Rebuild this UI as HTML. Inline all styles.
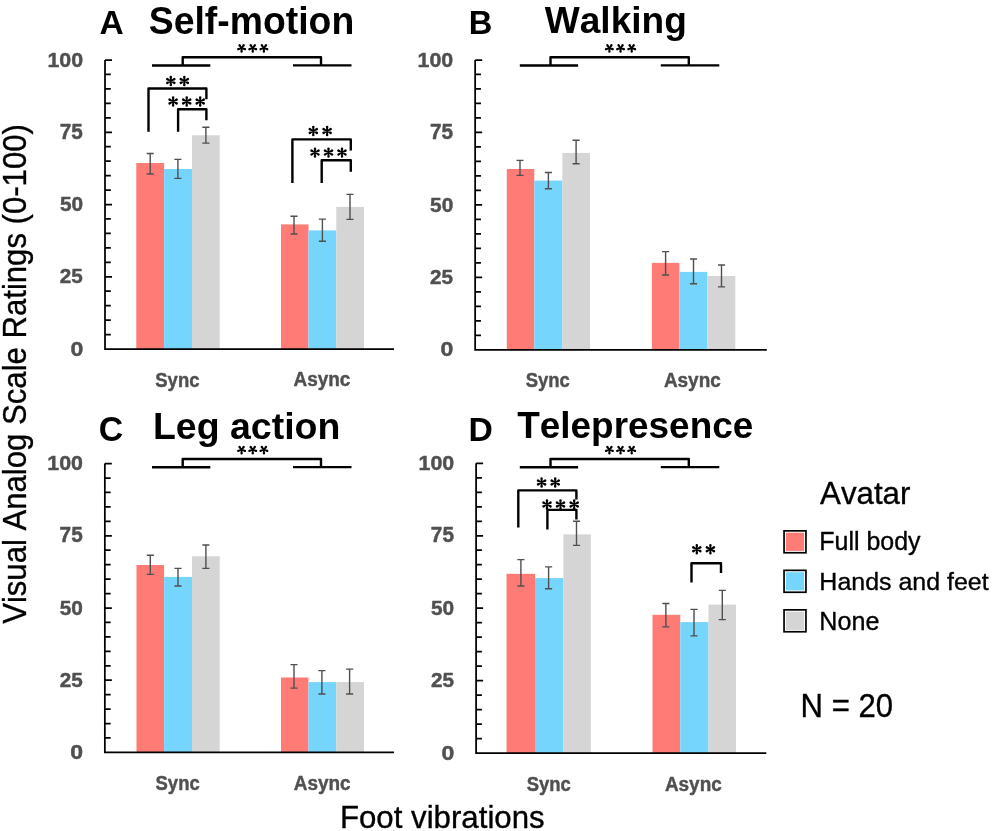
<!DOCTYPE html><html><head><meta charset="utf-8"><style>html,body{margin:0;padding:0;background:#fff;}svg{display:block;will-change:transform;}text{font-family:"Liberation Sans",sans-serif;font-kerning:none;}</style></head><body>
<svg width="992" height="831" viewBox="0 0 992 831">
<rect width="992" height="831" fill="#fff"/>
<rect x="136.30" y="163.00" width="27.80" height="186.00" fill="#FF7B76"/>
<rect x="164.10" y="169.00" width="27.90" height="180.00" fill="#76D5FD"/>
<rect x="192.00" y="135.30" width="27.70" height="213.70" fill="#D5D5D5"/>
<rect x="281.00" y="224.40" width="27.50" height="124.60" fill="#FF7B76"/>
<rect x="308.50" y="230.40" width="27.80" height="118.60" fill="#76D5FD"/>
<rect x="336.30" y="206.90" width="27.70" height="142.10" fill="#D5D5D5"/>
<path d="M146.65 153.50H153.75M150.20 153.50V174.00M146.65 174.00H153.75" stroke="#4f4f4f" stroke-width="1.4" fill="none"/>
<path d="M174.35 159.40H181.45M177.90 159.40V178.40M174.35 178.40H181.45" stroke="#4f4f4f" stroke-width="1.4" fill="none"/>
<path d="M202.35 127.30H209.45M205.90 127.30V143.10M202.35 143.10H209.45" stroke="#4f4f4f" stroke-width="1.4" fill="none"/>
<path d="M290.45 216.30H297.55M294.00 216.30V234.00M290.45 234.00H297.55" stroke="#4f4f4f" stroke-width="1.4" fill="none"/>
<path d="M318.85 219.10H325.95M322.40 219.10V241.30M318.85 241.30H325.95" stroke="#4f4f4f" stroke-width="1.4" fill="none"/>
<path d="M346.45 194.40H353.55M350.00 194.40V219.40M346.45 219.40H353.55" stroke="#4f4f4f" stroke-width="1.4" fill="none"/>
<path d="M105.00 60.00V349.00H394.00M105.00 60.00H112.00M105.00 74.45H110.80M105.00 88.90H110.80M105.00 103.35H110.80M105.00 117.80H110.80M105.00 132.25H112.00M105.00 146.70H110.80M105.00 161.15H110.80M105.00 175.60H110.80M105.00 190.05H110.80M105.00 204.50H112.00M105.00 218.95H110.80M105.00 233.40H110.80M105.00 247.85H110.80M105.00 262.30H110.80M105.00 276.75H112.00M105.00 291.20H110.80M105.00 305.65H110.80M105.00 320.10H110.80M105.00 334.55H110.80" stroke="#000" stroke-width="1.75" fill="none"/>
<text transform="translate(47.45 66.64) scale(1.0160 1)" font-size="21.04" font-weight="bold" fill="#505050" stroke="#505050" stroke-width="0.45" stroke-linejoin="round">100</text>
<text transform="translate(59.76 138.89) scale(0.9712 1)" font-size="21.35" font-weight="bold" fill="#505050" stroke="#505050" stroke-width="0.45" stroke-linejoin="round">75</text>
<text transform="translate(59.91 211.14) scale(0.9910 1)" font-size="21.04" font-weight="bold" fill="#505050" stroke="#505050" stroke-width="0.45" stroke-linejoin="round">50</text>
<text transform="translate(59.83 283.39) scale(0.9822 1)" font-size="21.04" font-weight="bold" fill="#505050" stroke="#505050" stroke-width="0.45" stroke-linejoin="round">25</text>
<text transform="translate(70.39 355.64) scale(1.0940 1)" font-size="21.04" font-weight="bold" fill="#505050" stroke="#505050" stroke-width="0.45" stroke-linejoin="round">0</text>
<text transform="translate(155.27 386.55) scale(0.8759 1)" font-size="21.12" font-weight="bold" fill="#505050" stroke="#505050" stroke-width="0.45" stroke-linejoin="round">Sync</text>
<text transform="translate(293.48 386.45) scale(0.9030 1)" font-size="21.00" font-weight="bold" fill="#505050" stroke="#505050" stroke-width="0.45" stroke-linejoin="round">Async</text>
<text transform="translate(99.41 34.00) scale(0.9860 1)" font-size="34.01" font-weight="bold" fill="#000" >A</text>
<text transform="translate(148.72 33.93) scale(0.9871 1)" font-size="37.86" font-weight="bold" fill="#000" >Self-motion</text>
<rect x="506.80" y="169.00" width="27.50" height="180.80" fill="#FF7B76"/>
<rect x="534.30" y="180.60" width="28.10" height="169.20" fill="#76D5FD"/>
<rect x="562.40" y="152.90" width="27.60" height="196.90" fill="#D5D5D5"/>
<rect x="651.90" y="262.90" width="27.50" height="86.90" fill="#FF7B76"/>
<rect x="679.40" y="271.90" width="27.90" height="77.90" fill="#76D5FD"/>
<rect x="707.30" y="276.00" width="28.00" height="73.80" fill="#D5D5D5"/>
<path d="M516.45 160.40H523.55M520.00 160.40V175.40M516.45 175.40H523.55" stroke="#4f4f4f" stroke-width="1.4" fill="none"/>
<path d="M544.85 172.50H551.95M548.40 172.50V188.80M544.85 188.80H551.95" stroke="#4f4f4f" stroke-width="1.4" fill="none"/>
<path d="M572.55 140.30H579.65M576.10 140.30V163.80M572.55 163.80H579.65" stroke="#4f4f4f" stroke-width="1.4" fill="none"/>
<path d="M662.05 251.60H669.15M665.60 251.60V275.00M662.05 275.00H669.15" stroke="#4f4f4f" stroke-width="1.4" fill="none"/>
<path d="M689.95 259.00H697.05M693.50 259.00V283.80M689.95 283.80H697.05" stroke="#4f4f4f" stroke-width="1.4" fill="none"/>
<path d="M717.95 265.00H725.05M721.50 265.00V286.90M717.95 286.90H725.05" stroke="#4f4f4f" stroke-width="1.4" fill="none"/>
<path d="M475.15 60.00V349.80H766.80M475.15 60.00H482.15M475.15 74.49H480.95M475.15 88.98H480.95M475.15 103.47H480.95M475.15 117.96H480.95M475.15 132.45H482.15M475.15 146.94H480.95M475.15 161.43H480.95M475.15 175.92H480.95M475.15 190.41H480.95M475.15 204.90H482.15M475.15 219.39H480.95M475.15 233.88H480.95M475.15 248.37H480.95M475.15 262.86H480.95M475.15 277.35H482.15M475.15 291.84H480.95M475.15 306.33H480.95M475.15 320.82H480.95M475.15 335.31H480.95" stroke="#000" stroke-width="1.75" fill="none"/>
<text transform="translate(417.60 66.64) scale(1.0160 1)" font-size="21.04" font-weight="bold" fill="#505050" stroke="#505050" stroke-width="0.45" stroke-linejoin="round">100</text>
<text transform="translate(429.91 139.09) scale(0.9712 1)" font-size="21.35" font-weight="bold" fill="#505050" stroke="#505050" stroke-width="0.45" stroke-linejoin="round">75</text>
<text transform="translate(430.06 211.54) scale(0.9910 1)" font-size="21.04" font-weight="bold" fill="#505050" stroke="#505050" stroke-width="0.45" stroke-linejoin="round">50</text>
<text transform="translate(429.98 283.99) scale(0.9822 1)" font-size="21.04" font-weight="bold" fill="#505050" stroke="#505050" stroke-width="0.45" stroke-linejoin="round">25</text>
<text transform="translate(440.54 356.44) scale(1.0940 1)" font-size="21.04" font-weight="bold" fill="#505050" stroke="#505050" stroke-width="0.45" stroke-linejoin="round">0</text>
<text transform="translate(525.67 386.95) scale(0.8759 1)" font-size="21.12" font-weight="bold" fill="#505050" stroke="#505050" stroke-width="0.45" stroke-linejoin="round">Sync</text>
<text transform="translate(663.88 386.85) scale(0.9030 1)" font-size="21.00" font-weight="bold" fill="#505050" stroke="#505050" stroke-width="0.45" stroke-linejoin="round">Async</text>
<text transform="translate(468.86 33.80) scale(0.9659 1)" font-size="33.87" font-weight="bold" fill="#000" >B</text>
<text transform="translate(544.76 32.64) scale(1.0257 1)" font-size="36.14" font-weight="bold" fill="#000" >Walking</text>
<rect x="136.50" y="565.00" width="27.60" height="187.40" fill="#FF7B76"/>
<rect x="164.10" y="576.90" width="27.90" height="175.50" fill="#76D5FD"/>
<rect x="192.00" y="556.30" width="27.70" height="196.10" fill="#D5D5D5"/>
<rect x="281.00" y="677.50" width="27.50" height="74.90" fill="#FF7B76"/>
<rect x="308.50" y="682.10" width="27.80" height="70.30" fill="#76D5FD"/>
<rect x="336.30" y="682.10" width="27.70" height="70.30" fill="#D5D5D5"/>
<path d="M146.75 555.30H153.85M150.30 555.30V574.40M146.75 574.40H153.85" stroke="#4f4f4f" stroke-width="1.4" fill="none"/>
<path d="M174.45 568.40H181.55M178.00 568.40V586.00M174.45 586.00H181.55" stroke="#4f4f4f" stroke-width="1.4" fill="none"/>
<path d="M202.35 545.00H209.45M205.90 545.00V568.40M202.35 568.40H209.45" stroke="#4f4f4f" stroke-width="1.4" fill="none"/>
<path d="M290.45 664.60H297.55M294.00 664.60V688.10M290.45 688.10H297.55" stroke="#4f4f4f" stroke-width="1.4" fill="none"/>
<path d="M318.35 670.60H325.45M321.90 670.60V694.00M318.35 694.00H325.45" stroke="#4f4f4f" stroke-width="1.4" fill="none"/>
<path d="M346.05 669.10H353.15M349.60 669.10V694.00M346.05 694.00H353.15" stroke="#4f4f4f" stroke-width="1.4" fill="none"/>
<path d="M104.85 463.60V752.40H394.00M104.85 463.60H111.85M104.85 478.04H110.65M104.85 492.48H110.65M104.85 506.92H110.65M104.85 521.36H110.65M104.85 535.80H111.85M104.85 550.24H110.65M104.85 564.68H110.65M104.85 579.12H110.65M104.85 593.56H110.65M104.85 608.00H111.85M104.85 622.44H110.65M104.85 636.88H110.65M104.85 651.32H110.65M104.85 665.76H110.65M104.85 680.20H111.85M104.85 694.64H110.65M104.85 709.08H110.65M104.85 723.52H110.65M104.85 737.96H110.65" stroke="#000" stroke-width="1.75" fill="none"/>
<text transform="translate(47.30 470.24) scale(1.0160 1)" font-size="21.04" font-weight="bold" fill="#505050" stroke="#505050" stroke-width="0.45" stroke-linejoin="round">100</text>
<text transform="translate(59.61 542.44) scale(0.9712 1)" font-size="21.35" font-weight="bold" fill="#505050" stroke="#505050" stroke-width="0.45" stroke-linejoin="round">75</text>
<text transform="translate(59.76 614.64) scale(0.9910 1)" font-size="21.04" font-weight="bold" fill="#505050" stroke="#505050" stroke-width="0.45" stroke-linejoin="round">50</text>
<text transform="translate(59.68 686.84) scale(0.9822 1)" font-size="21.04" font-weight="bold" fill="#505050" stroke="#505050" stroke-width="0.45" stroke-linejoin="round">25</text>
<text transform="translate(70.24 759.04) scale(1.0940 1)" font-size="21.04" font-weight="bold" fill="#505050" stroke="#505050" stroke-width="0.45" stroke-linejoin="round">0</text>
<text transform="translate(155.52 789.95) scale(0.8759 1)" font-size="21.12" font-weight="bold" fill="#505050" stroke="#505050" stroke-width="0.45" stroke-linejoin="round">Sync</text>
<text transform="translate(293.73 789.85) scale(0.9030 1)" font-size="21.00" font-weight="bold" fill="#505050" stroke="#505050" stroke-width="0.45" stroke-linejoin="round">Async</text>
<text transform="translate(98.81 440.51) scale(0.9631 1)" font-size="35.10" font-weight="bold" fill="#000" >C</text>
<text transform="translate(152.99 438.66) scale(0.9995 1)" font-size="37.48" font-weight="bold" fill="#000" >Leg action</text>
<rect x="506.50" y="573.80" width="28.50" height="179.30" fill="#FF7B76"/>
<rect x="535.00" y="578.10" width="28.40" height="175.00" fill="#76D5FD"/>
<rect x="563.40" y="534.40" width="27.50" height="218.70" fill="#D5D5D5"/>
<rect x="652.50" y="614.80" width="27.80" height="138.30" fill="#FF7B76"/>
<rect x="680.30" y="622.10" width="28.20" height="131.00" fill="#76D5FD"/>
<rect x="708.50" y="604.60" width="27.50" height="148.50" fill="#D5D5D5"/>
<path d="M517.35 559.60H524.45M520.90 559.60V586.00M517.35 586.00H524.45" stroke="#4f4f4f" stroke-width="1.4" fill="none"/>
<path d="M545.05 566.90H552.15M548.60 566.90V588.80M545.05 588.80H552.15" stroke="#4f4f4f" stroke-width="1.4" fill="none"/>
<path d="M572.95 521.30H580.05M576.50 521.30V545.40M572.95 545.40H580.05" stroke="#4f4f4f" stroke-width="1.4" fill="none"/>
<path d="M662.35 603.50H669.45M665.90 603.50V626.90M662.35 626.90H669.45" stroke="#4f4f4f" stroke-width="1.4" fill="none"/>
<path d="M690.45 609.40H697.55M694.00 609.40V635.90M690.45 635.90H697.55" stroke="#4f4f4f" stroke-width="1.4" fill="none"/>
<path d="M718.75 590.40H725.85M722.30 590.40V619.60M718.75 619.60H725.85" stroke="#4f4f4f" stroke-width="1.4" fill="none"/>
<path d="M476.10 463.30V753.10H766.30M476.10 463.30H483.10M476.10 477.79H481.90M476.10 492.28H481.90M476.10 506.77H481.90M476.10 521.26H481.90M476.10 535.75H483.10M476.10 550.24H481.90M476.10 564.73H481.90M476.10 579.22H481.90M476.10 593.71H481.90M476.10 608.20H483.10M476.10 622.69H481.90M476.10 637.18H481.90M476.10 651.67H481.90M476.10 666.16H481.90M476.10 680.65H483.10M476.10 695.14H481.90M476.10 709.63H481.90M476.10 724.12H481.90M476.10 738.61H481.90" stroke="#000" stroke-width="1.75" fill="none"/>
<text transform="translate(418.55 469.94) scale(1.0160 1)" font-size="21.04" font-weight="bold" fill="#505050" stroke="#505050" stroke-width="0.45" stroke-linejoin="round">100</text>
<text transform="translate(430.86 542.39) scale(0.9712 1)" font-size="21.35" font-weight="bold" fill="#505050" stroke="#505050" stroke-width="0.45" stroke-linejoin="round">75</text>
<text transform="translate(431.01 614.84) scale(0.9910 1)" font-size="21.04" font-weight="bold" fill="#505050" stroke="#505050" stroke-width="0.45" stroke-linejoin="round">50</text>
<text transform="translate(430.93 687.29) scale(0.9822 1)" font-size="21.04" font-weight="bold" fill="#505050" stroke="#505050" stroke-width="0.45" stroke-linejoin="round">25</text>
<text transform="translate(441.49 759.74) scale(1.0940 1)" font-size="21.04" font-weight="bold" fill="#505050" stroke="#505050" stroke-width="0.45" stroke-linejoin="round">0</text>
<text transform="translate(526.67 790.75) scale(0.8759 1)" font-size="21.12" font-weight="bold" fill="#505050" stroke="#505050" stroke-width="0.45" stroke-linejoin="round">Sync</text>
<text transform="translate(664.88 790.65) scale(0.9030 1)" font-size="21.00" font-weight="bold" fill="#505050" stroke="#505050" stroke-width="0.45" stroke-linejoin="round">Async</text>
<text transform="translate(468.40 440.85) scale(0.9983 1)" font-size="33.79" font-weight="bold" fill="#000" >D</text>
<text transform="translate(517.18 438.24) scale(1.0015 1)" font-size="36.90" font-weight="bold" fill="#000" >Telepresence</text>
<path d="M152.00 65.50H210.30M182.70 65.50V57.30H321.00V65.40M293.00 65.40H351.50" stroke="#000" stroke-width="2.4" fill="none" stroke-linecap="butt" stroke-linejoin="round"/>
<path d="M241.00 48.10L240.40 51.60A1.20 1.20 0 0 0 242.80 51.60L242.20 48.10ZM241.41 48.67L244.56 50.32A1.20 1.20 0 0 0 245.30 48.04L241.79 47.53ZM242.09 48.45L244.63 45.97A1.20 1.20 0 0 0 242.69 44.56L241.11 47.75ZM242.09 47.75L240.51 44.56A1.20 1.20 0 0 0 238.57 45.97L241.11 48.45ZM241.41 47.53L237.90 48.04A1.20 1.20 0 0 0 238.64 50.32L241.79 48.67Z" fill="#000"/>
<path d="M252.15 48.10L251.55 51.60A1.20 1.20 0 0 0 253.95 51.60L253.35 48.10ZM252.56 48.67L255.71 50.32A1.20 1.20 0 0 0 256.45 48.04L252.94 47.53ZM253.24 48.45L255.78 45.97A1.20 1.20 0 0 0 253.84 44.56L252.26 47.75ZM253.24 47.75L251.66 44.56A1.20 1.20 0 0 0 249.72 45.97L252.26 48.45ZM252.56 47.53L249.05 48.04A1.20 1.20 0 0 0 249.79 50.32L252.94 48.67Z" fill="#000"/>
<path d="M263.30 48.10L262.70 51.60A1.20 1.20 0 0 0 265.10 51.60L264.50 48.10ZM263.71 48.67L266.86 50.32A1.20 1.20 0 0 0 267.60 48.04L264.09 47.53ZM264.39 48.45L266.93 45.97A1.20 1.20 0 0 0 264.99 44.56L263.41 47.75ZM264.39 47.75L262.81 44.56A1.20 1.20 0 0 0 260.87 45.97L263.41 48.45ZM263.71 47.53L260.20 48.04A1.20 1.20 0 0 0 260.94 50.32L264.09 48.67Z" fill="#000"/>
<path d="M519.80 65.50H578.10M550.50 65.50V57.30H688.80V65.40M660.80 65.40H719.30" stroke="#000" stroke-width="2.4" fill="none" stroke-linecap="butt" stroke-linejoin="round"/>
<path d="M608.80 48.10L608.20 51.60A1.20 1.20 0 0 0 610.60 51.60L610.00 48.10ZM609.21 48.67L612.36 50.32A1.20 1.20 0 0 0 613.10 48.04L609.59 47.53ZM609.89 48.45L612.43 45.97A1.20 1.20 0 0 0 610.49 44.56L608.91 47.75ZM609.89 47.75L608.31 44.56A1.20 1.20 0 0 0 606.37 45.97L608.91 48.45ZM609.21 47.53L605.70 48.04A1.20 1.20 0 0 0 606.44 50.32L609.59 48.67Z" fill="#000"/>
<path d="M619.95 48.10L619.35 51.60A1.20 1.20 0 0 0 621.75 51.60L621.15 48.10ZM620.36 48.67L623.51 50.32A1.20 1.20 0 0 0 624.25 48.04L620.74 47.53ZM621.04 48.45L623.58 45.97A1.20 1.20 0 0 0 621.64 44.56L620.06 47.75ZM621.04 47.75L619.46 44.56A1.20 1.20 0 0 0 617.52 45.97L620.06 48.45ZM620.36 47.53L616.85 48.04A1.20 1.20 0 0 0 617.59 50.32L620.74 48.67Z" fill="#000"/>
<path d="M631.10 48.10L630.50 51.60A1.20 1.20 0 0 0 632.90 51.60L632.30 48.10ZM631.51 48.67L634.66 50.32A1.20 1.20 0 0 0 635.40 48.04L631.89 47.53ZM632.19 48.45L634.73 45.97A1.20 1.20 0 0 0 632.79 44.56L631.21 47.75ZM632.19 47.75L630.61 44.56A1.20 1.20 0 0 0 628.67 45.97L631.21 48.45ZM631.51 47.53L628.00 48.04A1.20 1.20 0 0 0 628.74 50.32L631.89 48.67Z" fill="#000"/>
<path d="M152.00 467.20H210.30M182.70 467.20V459.00H321.00V467.10M293.00 467.10H351.50" stroke="#000" stroke-width="2.4" fill="none" stroke-linecap="butt" stroke-linejoin="round"/>
<path d="M241.00 449.80L240.40 453.30A1.20 1.20 0 0 0 242.80 453.30L242.20 449.80ZM241.41 450.37L244.56 452.02A1.20 1.20 0 0 0 245.30 449.74L241.79 449.23ZM242.09 450.15L244.63 447.67A1.20 1.20 0 0 0 242.69 446.26L241.11 449.45ZM242.09 449.45L240.51 446.26A1.20 1.20 0 0 0 238.57 447.67L241.11 450.15ZM241.41 449.23L237.90 449.74A1.20 1.20 0 0 0 238.64 452.02L241.79 450.37Z" fill="#000"/>
<path d="M252.15 449.80L251.55 453.30A1.20 1.20 0 0 0 253.95 453.30L253.35 449.80ZM252.56 450.37L255.71 452.02A1.20 1.20 0 0 0 256.45 449.74L252.94 449.23ZM253.24 450.15L255.78 447.67A1.20 1.20 0 0 0 253.84 446.26L252.26 449.45ZM253.24 449.45L251.66 446.26A1.20 1.20 0 0 0 249.72 447.67L252.26 450.15ZM252.56 449.23L249.05 449.74A1.20 1.20 0 0 0 249.79 452.02L252.94 450.37Z" fill="#000"/>
<path d="M263.30 449.80L262.70 453.30A1.20 1.20 0 0 0 265.10 453.30L264.50 449.80ZM263.71 450.37L266.86 452.02A1.20 1.20 0 0 0 267.60 449.74L264.09 449.23ZM264.39 450.15L266.93 447.67A1.20 1.20 0 0 0 264.99 446.26L263.41 449.45ZM264.39 449.45L262.81 446.26A1.20 1.20 0 0 0 260.87 447.67L263.41 450.15ZM263.71 449.23L260.20 449.74A1.20 1.20 0 0 0 260.94 452.02L264.09 450.37Z" fill="#000"/>
<path d="M519.80 467.20H578.10M550.50 467.20V459.00H688.80V467.10M660.80 467.10H719.30" stroke="#000" stroke-width="2.4" fill="none" stroke-linecap="butt" stroke-linejoin="round"/>
<path d="M608.80 449.80L608.20 453.30A1.20 1.20 0 0 0 610.60 453.30L610.00 449.80ZM609.21 450.37L612.36 452.02A1.20 1.20 0 0 0 613.10 449.74L609.59 449.23ZM609.89 450.15L612.43 447.67A1.20 1.20 0 0 0 610.49 446.26L608.91 449.45ZM609.89 449.45L608.31 446.26A1.20 1.20 0 0 0 606.37 447.67L608.91 450.15ZM609.21 449.23L605.70 449.74A1.20 1.20 0 0 0 606.44 452.02L609.59 450.37Z" fill="#000"/>
<path d="M619.95 449.80L619.35 453.30A1.20 1.20 0 0 0 621.75 453.30L621.15 449.80ZM620.36 450.37L623.51 452.02A1.20 1.20 0 0 0 624.25 449.74L620.74 449.23ZM621.04 450.15L623.58 447.67A1.20 1.20 0 0 0 621.64 446.26L620.06 449.45ZM621.04 449.45L619.46 446.26A1.20 1.20 0 0 0 617.52 447.67L620.06 450.15ZM620.36 449.23L616.85 449.74A1.20 1.20 0 0 0 617.59 452.02L620.74 450.37Z" fill="#000"/>
<path d="M631.10 449.80L630.50 453.30A1.20 1.20 0 0 0 632.90 453.30L632.30 449.80ZM631.51 450.37L634.66 452.02A1.20 1.20 0 0 0 635.40 449.74L631.89 449.23ZM632.19 450.15L634.73 447.67A1.20 1.20 0 0 0 632.79 446.26L631.21 449.45ZM632.19 449.45L630.61 446.26A1.20 1.20 0 0 0 628.67 447.67L631.21 450.15ZM631.51 449.23L628.00 449.74A1.20 1.20 0 0 0 628.74 452.02L631.89 450.37Z" fill="#000"/>
<path d="M148.50 131.80V88.50H206.40V99.20" stroke="#000" stroke-width="2.4" fill="none" stroke-linecap="butt" stroke-linejoin="round"/>
<path d="M171.38 81.00L172.05 77.10A1.25 1.25 0 0 0 169.55 77.10L170.23 81.00ZM171.08 81.50L174.95 80.15A1.25 1.25 0 0 0 173.74 77.95L170.52 80.50ZM171.08 80.50L167.86 77.95A1.25 1.25 0 0 0 166.65 80.15L170.52 81.50ZM170.23 81.00L169.55 84.90A1.25 1.25 0 0 0 172.05 84.90L171.38 81.00ZM170.52 80.50L166.65 81.85A1.25 1.25 0 0 0 167.86 84.05L171.08 81.50ZM170.52 81.50L173.74 84.05A1.25 1.25 0 0 0 174.95 81.85L171.08 80.50Z" fill="#000"/>
<path d="M184.88 81.00L185.55 77.10A1.25 1.25 0 0 0 183.05 77.10L183.73 81.00ZM184.58 81.50L188.45 80.15A1.25 1.25 0 0 0 187.24 77.95L184.02 80.50ZM184.58 80.50L181.36 77.95A1.25 1.25 0 0 0 180.15 80.15L184.02 81.50ZM183.73 81.00L183.05 84.90A1.25 1.25 0 0 0 185.55 84.90L184.88 81.00ZM184.02 80.50L180.15 81.85A1.25 1.25 0 0 0 181.36 84.05L184.58 81.50ZM184.02 81.50L187.24 84.05A1.25 1.25 0 0 0 188.45 81.85L184.58 80.50Z" fill="#000"/>
<path d="M178.10 131.80V109.20H206.40V120.30" stroke="#000" stroke-width="2.4" fill="none" stroke-linecap="butt" stroke-linejoin="round"/>
<path d="M173.67 101.50L174.35 97.60A1.25 1.25 0 0 0 171.85 97.60L172.53 101.50ZM173.38 102.00L177.25 100.65A1.25 1.25 0 0 0 176.04 98.45L172.82 101.00ZM173.38 101.00L170.16 98.45A1.25 1.25 0 0 0 168.95 100.65L172.82 102.00ZM172.53 101.50L171.85 105.40A1.25 1.25 0 0 0 174.35 105.40L173.67 101.50ZM172.82 101.00L168.95 102.35A1.25 1.25 0 0 0 170.16 104.55L173.38 102.00ZM172.82 102.00L176.04 104.55A1.25 1.25 0 0 0 177.25 102.35L173.38 101.00Z" fill="#000"/>
<path d="M187.27 101.50L187.95 97.60A1.25 1.25 0 0 0 185.45 97.60L186.12 101.50ZM186.98 102.00L190.85 100.65A1.25 1.25 0 0 0 189.64 98.45L186.42 101.00ZM186.98 101.00L183.76 98.45A1.25 1.25 0 0 0 182.55 100.65L186.42 102.00ZM186.12 101.50L185.45 105.40A1.25 1.25 0 0 0 187.95 105.40L187.27 101.50ZM186.42 101.00L182.55 102.35A1.25 1.25 0 0 0 183.76 104.55L186.98 102.00ZM186.42 102.00L189.64 104.55A1.25 1.25 0 0 0 190.85 102.35L186.98 101.00Z" fill="#000"/>
<path d="M200.77 101.50L201.45 97.60A1.25 1.25 0 0 0 198.95 97.60L199.62 101.50ZM200.48 102.00L204.35 100.65A1.25 1.25 0 0 0 203.14 98.45L199.92 101.00ZM200.48 101.00L197.26 98.45A1.25 1.25 0 0 0 196.05 100.65L199.92 102.00ZM199.62 101.50L198.95 105.40A1.25 1.25 0 0 0 201.45 105.40L200.77 101.50ZM199.92 101.00L196.05 102.35A1.25 1.25 0 0 0 197.26 104.55L200.48 102.00ZM199.92 102.00L203.14 104.55A1.25 1.25 0 0 0 204.35 102.35L200.48 101.00Z" fill="#000"/>
<path d="M292.40 183.00V139.40H350.80V150.60" stroke="#000" stroke-width="2.4" fill="none" stroke-linecap="butt" stroke-linejoin="round"/>
<path d="M313.88 131.00L314.55 127.10A1.25 1.25 0 0 0 312.05 127.10L312.73 131.00ZM313.58 131.50L317.45 130.15A1.25 1.25 0 0 0 316.24 127.95L313.02 130.50ZM313.58 130.50L310.36 127.95A1.25 1.25 0 0 0 309.15 130.15L313.02 131.50ZM312.73 131.00L312.05 134.90A1.25 1.25 0 0 0 314.55 134.90L313.88 131.00ZM313.02 130.50L309.15 131.85A1.25 1.25 0 0 0 310.36 134.05L313.58 131.50ZM313.02 131.50L316.24 134.05A1.25 1.25 0 0 0 317.45 131.85L313.58 130.50Z" fill="#000"/>
<path d="M327.68 131.00L328.35 127.10A1.25 1.25 0 0 0 325.85 127.10L326.53 131.00ZM327.38 131.50L331.25 130.15A1.25 1.25 0 0 0 330.04 127.95L326.82 130.50ZM327.38 130.50L324.16 127.95A1.25 1.25 0 0 0 322.95 130.15L326.82 131.50ZM326.53 131.00L325.85 134.90A1.25 1.25 0 0 0 328.35 134.90L327.68 131.00ZM326.82 130.50L322.95 131.85A1.25 1.25 0 0 0 324.16 134.05L327.38 131.50ZM326.82 131.50L330.04 134.05A1.25 1.25 0 0 0 331.25 131.85L327.38 130.50Z" fill="#000"/>
<path d="M321.70 183.00V160.20H350.80V171.70" stroke="#000" stroke-width="2.4" fill="none" stroke-linecap="butt" stroke-linejoin="round"/>
<path d="M315.57 152.55L316.25 148.65A1.25 1.25 0 0 0 313.75 148.65L314.43 152.55ZM315.28 153.05L319.15 151.70A1.25 1.25 0 0 0 317.94 149.50L314.72 152.05ZM315.28 152.05L312.06 149.50A1.25 1.25 0 0 0 310.85 151.70L314.72 153.05ZM314.43 152.55L313.75 156.45A1.25 1.25 0 0 0 316.25 156.45L315.57 152.55ZM314.72 152.05L310.85 153.40A1.25 1.25 0 0 0 312.06 155.60L315.28 153.05ZM314.72 153.05L317.94 155.60A1.25 1.25 0 0 0 319.15 153.40L315.28 152.05Z" fill="#000"/>
<path d="M329.07 152.55L329.75 148.65A1.25 1.25 0 0 0 327.25 148.65L327.93 152.55ZM328.78 153.05L332.65 151.70A1.25 1.25 0 0 0 331.44 149.50L328.22 152.05ZM328.78 152.05L325.56 149.50A1.25 1.25 0 0 0 324.35 151.70L328.22 153.05ZM327.93 152.55L327.25 156.45A1.25 1.25 0 0 0 329.75 156.45L329.07 152.55ZM328.22 152.05L324.35 153.40A1.25 1.25 0 0 0 325.56 155.60L328.78 153.05ZM328.22 153.05L331.44 155.60A1.25 1.25 0 0 0 332.65 153.40L328.78 152.05Z" fill="#000"/>
<path d="M342.57 152.55L343.25 148.65A1.25 1.25 0 0 0 340.75 148.65L341.43 152.55ZM342.28 153.05L346.15 151.70A1.25 1.25 0 0 0 344.94 149.50L341.72 152.05ZM342.28 152.05L339.06 149.50A1.25 1.25 0 0 0 337.85 151.70L341.72 153.05ZM341.43 152.55L340.75 156.45A1.25 1.25 0 0 0 343.25 156.45L342.57 152.55ZM341.72 152.05L337.85 153.40A1.25 1.25 0 0 0 339.06 155.60L342.28 153.05ZM341.72 153.05L344.94 155.60A1.25 1.25 0 0 0 346.15 153.40L342.28 152.05Z" fill="#000"/>
<path d="M518.30 527.50V490.40H576.40V499.40" stroke="#000" stroke-width="2.4" fill="none" stroke-linecap="butt" stroke-linejoin="round"/>
<path d="M542.18 482.50L542.85 478.60A1.25 1.25 0 0 0 540.35 478.60L541.02 482.50ZM541.88 483.00L545.75 481.65A1.25 1.25 0 0 0 544.54 479.45L541.32 482.00ZM541.88 482.00L538.66 479.45A1.25 1.25 0 0 0 537.45 481.65L541.32 483.00ZM541.02 482.50L540.35 486.40A1.25 1.25 0 0 0 542.85 486.40L542.18 482.50ZM541.32 482.00L537.45 483.35A1.25 1.25 0 0 0 538.66 485.55L541.88 483.00ZM541.32 483.00L544.54 485.55A1.25 1.25 0 0 0 545.75 483.35L541.88 482.00Z" fill="#000"/>
<path d="M555.78 482.50L556.45 478.60A1.25 1.25 0 0 0 553.95 478.60L554.62 482.50ZM555.48 483.00L559.35 481.65A1.25 1.25 0 0 0 558.14 479.45L554.92 482.00ZM555.48 482.00L552.26 479.45A1.25 1.25 0 0 0 551.05 481.65L554.92 483.00ZM554.62 482.50L553.95 486.40A1.25 1.25 0 0 0 556.45 486.40L555.78 482.50ZM554.92 482.00L551.05 483.35A1.25 1.25 0 0 0 552.26 485.55L555.48 483.00ZM554.92 483.00L558.14 485.55A1.25 1.25 0 0 0 559.35 483.35L555.48 482.00Z" fill="#000"/>
<path d="M547.40 529.40V509.90H576.40V519.40" stroke="#000" stroke-width="2.4" fill="none" stroke-linecap="butt" stroke-linejoin="round"/>
<path d="M547.58 504.50L548.25 500.60A1.25 1.25 0 0 0 545.75 500.60L546.42 504.50ZM547.28 505.00L551.15 503.65A1.25 1.25 0 0 0 549.94 501.45L546.72 504.00ZM547.28 504.00L544.06 501.45A1.25 1.25 0 0 0 542.85 503.65L546.72 505.00ZM546.42 504.50L545.75 508.40A1.25 1.25 0 0 0 548.25 508.40L547.58 504.50ZM546.72 504.00L542.85 505.35A1.25 1.25 0 0 0 544.06 507.55L547.28 505.00ZM546.72 505.00L549.94 507.55A1.25 1.25 0 0 0 551.15 505.35L547.28 504.00Z" fill="#000"/>
<path d="M561.08 504.50L561.75 500.60A1.25 1.25 0 0 0 559.25 500.60L559.92 504.50ZM560.78 505.00L564.65 503.65A1.25 1.25 0 0 0 563.44 501.45L560.22 504.00ZM560.78 504.00L557.56 501.45A1.25 1.25 0 0 0 556.35 503.65L560.22 505.00ZM559.92 504.50L559.25 508.40A1.25 1.25 0 0 0 561.75 508.40L561.08 504.50ZM560.22 504.00L556.35 505.35A1.25 1.25 0 0 0 557.56 507.55L560.78 505.00ZM560.22 505.00L563.44 507.55A1.25 1.25 0 0 0 564.65 505.35L560.78 504.00Z" fill="#000"/>
<path d="M574.78 504.50L575.45 500.60A1.25 1.25 0 0 0 572.95 500.60L573.62 504.50ZM574.48 505.00L578.35 503.65A1.25 1.25 0 0 0 577.14 501.45L573.92 504.00ZM574.48 504.00L571.26 501.45A1.25 1.25 0 0 0 570.05 503.65L573.92 505.00ZM573.62 504.50L572.95 508.40A1.25 1.25 0 0 0 575.45 508.40L574.78 504.50ZM573.92 504.00L570.05 505.35A1.25 1.25 0 0 0 571.26 507.55L574.48 505.00ZM573.92 505.00L577.14 507.55A1.25 1.25 0 0 0 578.35 505.35L574.48 504.00Z" fill="#000"/>
<path d="M691.50 582.50V563.30H721.00V573.10" stroke="#000" stroke-width="2.4" fill="none" stroke-linecap="butt" stroke-linejoin="round"/>
<path d="M697.38 549.25L698.05 545.35A1.25 1.25 0 0 0 695.55 545.35L696.22 549.25ZM697.08 549.75L700.95 548.40A1.25 1.25 0 0 0 699.74 546.20L696.52 548.75ZM697.08 548.75L693.86 546.20A1.25 1.25 0 0 0 692.65 548.40L696.52 549.75ZM696.22 549.25L695.55 553.15A1.25 1.25 0 0 0 698.05 553.15L697.38 549.25ZM696.52 548.75L692.65 550.10A1.25 1.25 0 0 0 693.86 552.30L697.08 549.75ZM696.52 549.75L699.74 552.30A1.25 1.25 0 0 0 700.95 550.10L697.08 548.75Z" fill="#000"/>
<path d="M710.98 549.25L711.65 545.35A1.25 1.25 0 0 0 709.15 545.35L709.82 549.25ZM710.68 549.75L714.55 548.40A1.25 1.25 0 0 0 713.34 546.20L710.12 548.75ZM710.68 548.75L707.46 546.20A1.25 1.25 0 0 0 706.25 548.40L710.12 549.75ZM709.82 549.25L709.15 553.15A1.25 1.25 0 0 0 711.65 553.15L710.98 549.25ZM710.12 548.75L706.25 550.10A1.25 1.25 0 0 0 707.46 552.30L710.68 549.75ZM710.12 549.75L713.34 552.30A1.25 1.25 0 0 0 714.55 550.10L710.68 548.75Z" fill="#000"/>
<text transform="translate(26.40 623.84) rotate(-90) scale(0.9634 1)" font-size="32.3" fill="#000" stroke="#000" stroke-width="0.35" stroke-linejoin="round">Visual Analog Scale Ratings (0-100)</text>
<text transform="translate(339.94 827.70) scale(1.0018 1)" font-size="31.18" font-weight="normal" fill="#000" stroke="#000" stroke-width="0.35" stroke-linejoin="round">Foot vibrations</text>
<text transform="translate(820.04 503.59) scale(0.9964 1)" font-size="31.39" font-weight="normal" fill="#000" stroke="#000" stroke-width="0.35" stroke-linejoin="round">Avatar</text>
<rect x="784.05" y="530.85" width="21.90" height="21.90" fill="#fff" stroke="#000" stroke-width="1.7"/>
<rect x="785.90" y="532.70" width="18.20" height="18.20" fill="#FF7B76"/>
<rect x="784.05" y="570.35" width="21.90" height="21.90" fill="#fff" stroke="#000" stroke-width="1.7"/>
<rect x="785.90" y="572.20" width="18.20" height="18.20" fill="#76D5FD"/>
<rect x="784.05" y="609.85" width="21.90" height="21.90" fill="#fff" stroke="#000" stroke-width="1.7"/>
<rect x="785.90" y="611.70" width="18.20" height="18.20" fill="#D5D5D5"/>
<text transform="translate(819.35 550.43) scale(1.0020 1)" font-size="24.89" font-weight="normal" fill="#000" stroke="#000" stroke-width="0.35" stroke-linejoin="round">Full body</text>
<text transform="translate(819.35 590.06) scale(1.0135 1)" font-size="24.65" font-weight="normal" fill="#000" stroke="#000" stroke-width="0.35" stroke-linejoin="round">Hands and feet</text>
<text transform="translate(819.34 629.75) scale(0.9796 1)" font-size="25.65" font-weight="normal" fill="#000" stroke="#000" stroke-width="0.35" stroke-linejoin="round">None</text>
<text transform="translate(800.55 716.88) scale(0.9499 1)" font-size="32.77" font-weight="normal" fill="#000" stroke="#000" stroke-width="0.35" stroke-linejoin="round">N = 20</text>
</svg></body></html>
